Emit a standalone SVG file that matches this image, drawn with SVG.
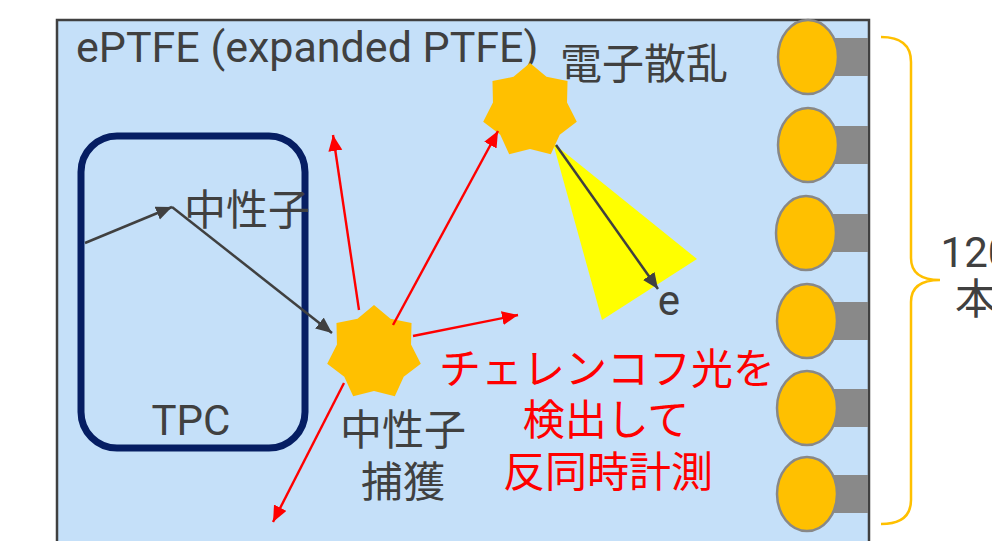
<svg xmlns="http://www.w3.org/2000/svg" xmlns:xlink="http://www.w3.org/1999/xlink" width="992" height="541" viewBox="0 0 992 541">
  <style>
    .lbl { font-family: Roboto, "Noto Sans CJK JP", "Liberation Sans", sans-serif; font-size: 42px; fill: #404040; }
    .red { fill: #ff0000; text-anchor: middle; }
    .mid { text-anchor: middle; }
    .ray { stroke: #ff0000; stroke-width: 2.4; fill: none; marker-end: url(#headRed); }
    .path { stroke: #404040; stroke-width: 2.5; fill: none; marker-end: url(#headDark); }
    .pmt-bulb { fill: #ffc000; stroke: #888888; stroke-width: 2.5; }
    .pmt-base { fill: #898989; }
    .flash { fill: #ffc000; }
  </style>
  <defs>
    <marker id="headRed" markerUnits="userSpaceOnUse" markerWidth="17" markerHeight="15" refX="16" refY="7" orient="auto">
      <path d="M0,0 L16,7 L0,14 z" fill="#ff0000"/>
    </marker>
    <marker id="headDark" markerUnits="userSpaceOnUse" markerWidth="17" markerHeight="15" refX="16" refY="7" orient="auto">
      <path d="M0,0 L16,7 L0,14 z" fill="#404040"/>
    </marker>
    <!-- seven-pointed flash, centred on the origin -->
    <polygon id="star7" points="0,-48 16.49,-34.23 37.53,-29.93 37.04,-8.45 46.80,10.68 29.71,23.69 20.83,43.25 0,38 -20.83,43.25 -29.71,23.69 -46.80,10.68 -37.04,-8.45 -37.53,-29.93 -16.49,-34.23"/>
  </defs>

  <rect width="992" height="541" fill="#ffffff"/>

  <!-- ePTFE volume -->
  <g id="eptfe">
    <rect x="57" y="20" width="812" height="560" fill="#c5e0f9" stroke="#404040" stroke-width="2.5"/>
    <text class="lbl" x="76" y="62" style="font-size:43px">ePTFE (expanded PTFE)</text>
  </g>

  <!-- time projection chamber -->
  <g id="tpc">
    <rect x="81" y="136" width="224" height="312" rx="36" ry="36" fill="none" stroke="#061e63" stroke-width="7"/>
    <text class="lbl mid" x="191" y="435">TPC</text>
  </g>

  <!-- Compton cone -->
  <g id="cone">
    <polygon points="553,143 697,259 602,320" fill="#ffff00"/>
  </g>

  <!-- capture and scatter vertices -->
  <g id="capture">
    <use xlink:href="#star7" class="flash" transform="translate(374,353)"/>
    <text class="lbl mid" x="403" y="445">中性子</text>
    <text class="lbl mid" x="403" y="497">捕獲</text>
  </g>
  <g id="scatter">
    <use xlink:href="#star7" class="flash" transform="translate(530,111)"/>
    <text class="lbl mid" x="644" y="79">電子散乱</text>
  </g>

  <!-- connectors -->
  <g id="connectors">
    <polyline class="path" points="85,243 172,207"/>
    <polyline class="path" points="172,207 332,333"/>
    <polyline class="path" points="556,145 658,289"/>
    <line class="ray" x1="359" y1="310" x2="333" y2="135"/>
    <line class="ray" x1="344" y1="383" x2="273" y2="522"/>
    <line class="ray" x1="413" y1="336" x2="518" y2="315"/>
    <line class="ray" x1="393" y1="325" x2="498" y2="131"/>
  </g>

  <g id="labels">
    <text class="lbl mid" x="247" y="225">中性子</text>
    <text class="lbl mid" x="669" y="315">e</text>
    <text class="lbl red" x="607" y="384">チェレンコフ光を</text>
    <text class="lbl red" x="606" y="435">検出して</text>
    <text class="lbl red" x="608" y="487">反同時計測</text>
  </g>

  <!-- photomultiplier tubes on the outer wall -->
  <g id="pmts">
    <g id="pmt1"><rect class="pmt-base" x="830" y="38" width="38" height="38"/><ellipse class="pmt-bulb" cx="808" cy="57" rx="30" ry="37"/></g>
    <g id="pmt2"><rect class="pmt-base" x="830" y="126" width="38" height="38"/><ellipse class="pmt-bulb" cx="808" cy="145" rx="30" ry="37"/></g>
    <g id="pmt3"><rect class="pmt-base" x="830" y="214" width="38" height="38"/><ellipse class="pmt-bulb" cx="806" cy="233" rx="30" ry="37"/></g>
    <g id="pmt4"><rect class="pmt-base" x="830" y="302" width="38" height="38"/><ellipse class="pmt-bulb" cx="807" cy="321" rx="30" ry="37"/></g>
    <g id="pmt5"><rect class="pmt-base" x="830" y="389" width="38" height="38"/><ellipse class="pmt-bulb" cx="807" cy="408" rx="30" ry="37"/></g>
    <g id="pmt6"><rect class="pmt-base" x="830" y="475" width="38" height="38"/><ellipse class="pmt-bulb" cx="807" cy="494" rx="30" ry="37"/></g>
  </g>

  <!-- count brace -->
  <g id="brace">
    <path d="M881,37 Q911,37 911,62 L911,258 Q911,280 940,280 Q911,280 911,302 L911,500 Q911,524 881,524" fill="none" stroke="#ffc000" stroke-width="2.5"/>
    <text class="lbl mid" x="976" y="267">120</text>
    <text class="lbl mid" x="976" y="314">本</text>
  </g>
</svg>
